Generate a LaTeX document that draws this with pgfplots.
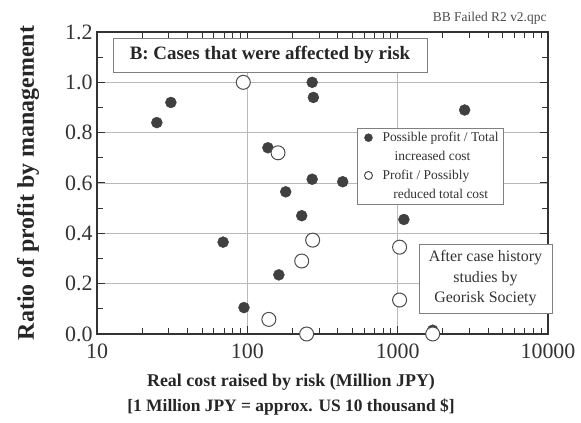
\documentclass[border=0pt]{standalone}
\usepackage{fontspec}
\setmainfont{Liberation Serif}
\usepackage{pgfplots}
\pgfplotsset{compat=1.18}
\begin{document}
\begin{tikzpicture}
\useasboundingbox (0,0) rectangle (581bp,423bp);
\begin{axis}[
  at={(97bp,89bp)}, anchor=south west,
  scale only axis, width=451bp, height=302bp,
  xmode=log, xmin=10, xmax=10000, ymin=0, ymax=1.2,
  xtick={10,100,1000,10000}, xticklabels={10,100,1000,10000},
  minor xtick={20,30,40,50,60,70,80,90,200,300,400,500,600,700,800,900,2000,3000,4000,5000,6000,7000,8000,9000},
  ytick={0,0.2,0.4,0.6,0.8,1.0,1.2},
  yticklabels={0.0,0.2,0.4,0.6,0.8,1.0,1.2},
  minor ytick={0.1,0.3,0.5,0.7,0.9,1.1},
  tick align=inside,
  major tick length=8bp, minor tick length=6bp,
  xtick style={draw=black!80, line width=1bp},
  ytick style={draw=black!80, line width=1bp},
  xmajorgrids, ymajorgrids,
  major grid style={gray!55, line width=0.8bp},
  axis line style={black!80, line width=1.6bp},
  ticklabel style={font=\fontsize{22}{22}\selectfont, text=black!80},
  xticklabel style={yshift=-6bp},
  yticklabel style={xshift=-1bp},
  clip=false,
  legend style={at={(0.576,0.682)}, anchor=north west, draw=gray, fill=white,
    font=\fontsize{13.5}{15}\selectfont, cells={anchor=west}, row sep=4bp,
    inner xsep=3bp, inner ysep=2bp, text=black!80},
  legend image post style={mark size=4bp},
]
\coordinate (ttl) at (rel axis cs:0.3836,0.924);
\coordinate (ann) at (rel axis cs:0.8614,0.1838);
\addplot[only marks, mark=*, mark size=5.5bp, mark options={fill=black!75, draw=black!75}]
coordinates {
(25,0.84) (31,0.92) (270,1.00) (275,0.94) (137,0.74) (270,0.615)
(180,0.565) (230,0.47) (69,0.365) (162,0.235) (95,0.105) (431,0.605)
(2790,0.89) (1100,0.455) (1710,0.015)
};
\addlegendentry{\hspace{0.6em}Possible profit / Total\hspace{1.2em}}
\addlegendimage{empty legend}
\addlegendentry{\hspace{1.5em}increased cost}
\addplot[only marks, mark=*, mark size=7bp, mark options={fill=white, draw=black!70, line width=1bp}]
coordinates {
(94,1.0) (160,0.72) (272,0.373) (230,0.29) (139,0.058) (248,0.0)
(1030,0.345) (1030,0.135) (1710,0.0)
};
\addlegendentry{\hspace{0.6em}Profit / Possibly}
\addlegendimage{empty legend}
\addlegendentry{\hspace{1.4em}reduced total cost}
\end{axis}
\node[draw=gray, fill=white, line width=0.8bp, minimum width=314bp, minimum height=34bp,
  font=\bfseries\fontsize{19}{19}\selectfont, text=black!85] at (ttl) {B: Cases that were affected by risk};
\node[draw=gray, fill=white, line width=0.8bp, align=center, minimum width=133bp, minimum height=69bp,
  inner sep=1bp, font=\fontsize{16}{20.5}\selectfont, text=black!80] at (ann) {After case history\\studies by\\Georisk Society};
\node[anchor=east, font=\fontsize{13.5}{13.5}\selectfont, text=black!70] at (550bp,405bp) {BB Failed R2 v2.qpc};
\node[rotate=90, font=\bfseries\fontsize{24}{24}\selectfont, text=black!85] at (28bp,240bp) {Ratio of profit by management};
\node[font=\bfseries\fontsize{18}{18}\selectfont, text=black!85] at (291bp,41bp) {Real cost raised by risk (Million JPY)};
\node[font=\bfseries\fontsize{17.5}{17.5}\selectfont, text=black!85] at (291bp,16bp) {[1 Million JPY = approx. US 10 thousand \$]};
\end{tikzpicture}
\end{document}
